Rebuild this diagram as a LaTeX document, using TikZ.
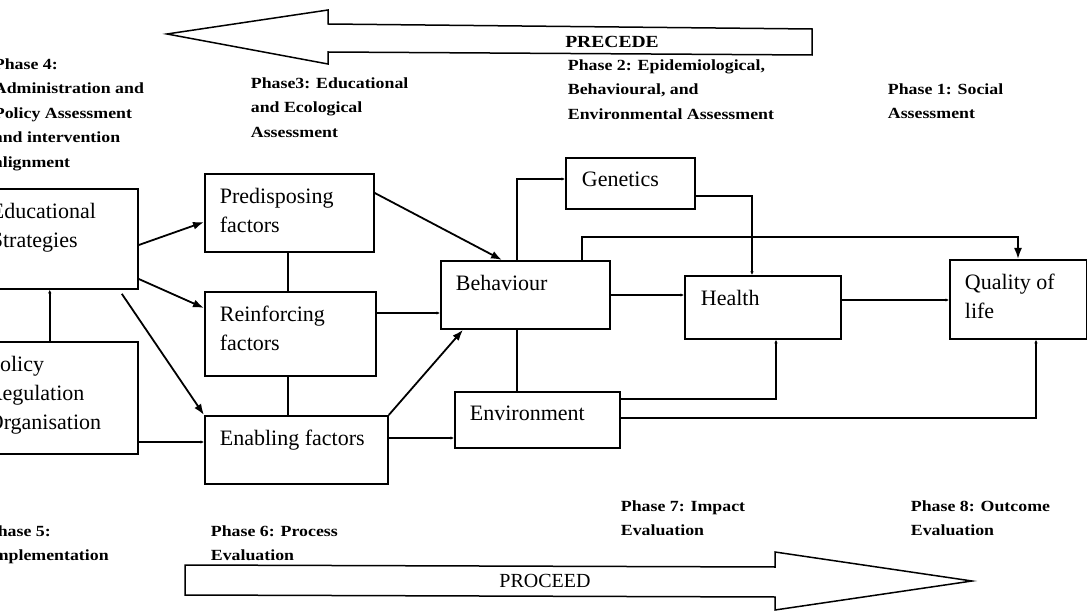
\documentclass[tikz,border=0pt]{standalone}
\usepackage{fontspec}
\setmainfont{Liberation Serif}
\newfontfamily\phasefont[FakeStretch=1.15]{Liberation Serif}
\usetikzlibrary{arrows.meta,calc}

\begin{document}
\begin{tikzpicture}[x=1pt,y=-1pt,line width=1.8pt,
  box/.style={draw,rectangle,anchor=north west,inner sep=0pt},
  boxtext/.style={anchor=north west,inner sep=0pt,align=left,font=\fontsize{22}{29}\selectfont},
  phase/.style={anchor=north west,inner sep=0pt,align=left,font=\phasefont\bfseries\fontsize{15.5}{24.5}\selectfont},
  arr/.style={-{Latex[length=11pt,width=8pt]}},
  smalltip/.style={-{Latex[length=3.5pt,width=3.5pt]}}]
 \useasboundingbox (0,0) rectangle (1087,612);
 \clip (0,0) rectangle (1087,612);

 % the two big arrows
 \draw[line width=1.5pt] (167,34) -- (328,10) -- (328,24) -- (812,29) -- (812,55)
   -- (328,52) -- (328,64) -- cycle;
 \draw[line width=1.5pt] (185,565) -- (775,567) -- (775,552) -- (972,581) -- (775,610)
   -- (775,597) -- (185,595) -- cycle;
 \node[font=\phasefont\bfseries\fontsize{17}{17}\selectfont] (precede) at (612,42) {PRECEDE};
 \node[font=\fontsize{20}{20}\selectfont] (proceed) at (545,581) {PROCEED};

 % phases
 \node[phase] (ph4) at (-7,57.5) {Phase 4:\\Administration and\\Policy Assessment\\and intervention\\alignment};
 \node[phase] (ph3) at (250,76.5) {Phase3: Educational\\and Ecological\\Assessment};
 \node[phase] (ph2) at (567,58.5) {Phase 2: Epidemiological,\\Behavioural, and\\Environmental Assessment};
 \node[phase] (ph1) at (887,82.5) {Phase 1: Social\\Assessment};
 \node[phase] (ph5) at (-14,524.5) {Phase 5:\\Implementation};
 \node[phase] (ph6) at (210,524.5) {Phase 6: Process\\Evaluation};
 \node[phase] (ph7) at (620,499.5) {Phase 7: Impact\\Evaluation};
 \node[phase] (ph8) at (910,499.5) {Phase 8: Outcome\\Evaluation};

 % boxes
 \node[box,minimum width=177pt,minimum height=100pt] (edu) at (-40,188) {};
 \node[box,minimum width=177pt,minimum height=112pt] (pol) at (-40,341) {};
 \node[box,minimum width=169pt,minimum height=78pt] (pred) at (204,173) {};
 \node[box,minimum width=171pt,minimum height=84pt] (reinf) at (204,291) {};
 \node[box,minimum width=183pt,minimum height=68pt] (enab) at (204,415) {};
 \node[box,minimum width=169pt,minimum height=68pt] (beh) at (440,260) {};
 \node[box,minimum width=129pt,minimum height=51pt] (gen) at (565,157) {};
 \node[box,minimum width=156pt,minimum height=63pt] (heal) at (684,275) {};
 \node[box,minimum width=137pt,minimum height=79pt] (qol) at (949,259) {};
 \node[box,minimum width=165pt,minimum height=56pt] (env) at (454,391) {};

 \node[boxtext] (edu-t) at (-10,202) {Educational\\Strategies};
 \node[boxtext] (pol-t) at (-13,355) {Policy\\Regulation\\Organisation};
 \node[boxtext] (pred-t) at (219,187) {Predisposing\\factors};
 \node[boxtext] (reinf-t) at (219,305) {Reinforcing\\factors};
 \node[boxtext] (enab-t) at (219,429) {Enabling factors};
 \node[boxtext] (beh-t) at (455,274) {Behaviour};
 \node[boxtext] (gen-t) at (581,171) {Genetics};
 \node[boxtext] (heal-t) at (700,289) {Health};
 \node[boxtext] (qol-t) at (964,273) {Quality of\\life};
 \node[boxtext] (env-t) at (469,405) {Environment};

 % connectors
 \draw[arr] ($(edu.north east)+(0,57)$) -- ($(pred.north west)+(0,49)$);
 \draw[arr] ($(edu.north east)+(0,91)$) -- ($(reinf.north west)+(0,17)$);
 \draw[arr] ($(edu.south east)+(-17,4)$) -- (enab.north west);
 \draw[arr] ($(pred.north east)+(0,20)$) -- ($(beh.north west)+(62,0)$);
 \draw[arr] (enab.north east) -- ($(beh.south west)+(23,0)$);
 \draw[smalltip] ($(pol.north east)+(-89,0)$) -- ($(edu.south east)+(-89,0)$);
 \draw ($(pred.south west)+(84,0)$) -- ($(reinf.north west)+(84,0)$);
 \draw ($(reinf.south west)+(84,0)$) -- ($(enab.north west)+(84,0)$);
 \draw[smalltip] ($(reinf.north east)+(0,22)$) coordinate (r1) -- (r1 -| beh.west);
 \draw[smalltip] ($(pol.north east)+(0,101)$) coordinate (p1) -- (p1 -| enab.west);
 \draw[smalltip] ($(enab.north east)+(0,23)$) coordinate (e1) -- (e1 -| env.west);
 \draw[smalltip] ($(beh.north west)+(77,0)$) |- ($(gen.north west)+(0,22)$);
 \draw[smalltip] ($(gen.north east)+(0,39)$) -| ($(heal.north west)+(68,0)$);
 \draw[smalltip] ($(beh.north east)+(0,35)$) coordinate (b1) -- (b1 -| heal.west);
 \draw[smalltip] ($(heal.north east)+(0,25)$) coordinate (h1) -- (h1 -| qol.west);
 \draw[arr] ($(beh.north west)+(142,0)$) -- ++(0,-23) -| ($(qol.north west)+(69,0)$);
 \draw ($(beh.south west)+(77,0)$) -- ($(env.north west)+(63,0)$);
 \draw[smalltip] ($(env.north east)+(0,8)$) -| ($(heal.south west)+(92,0)$);
 \draw[smalltip] ($(env.north east)+(0,27)$) -| ($(qol.south west)+(87,0)$);
\end{tikzpicture}
\end{document}
